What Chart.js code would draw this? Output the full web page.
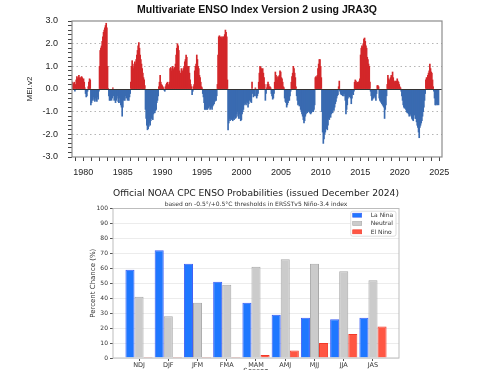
<!DOCTYPE html>
<html>
<head>
<meta charset="utf-8">
<script src="https://cdn.jsdelivr.net/npm/chart.js@4.4.1/dist/chart.umd.min.js"></script>
<style>
  html, body { margin: 0; padding: 0; background: #fff; }
  body { width: 479px; height: 370px; position: relative; overflow: hidden; }
  canvas { position: absolute; left: 0; }
  #mei { top: 0; }
  #prob { top: 180px; }
</style>
</head>
<body>
<canvas id="mei" width="479" height="180"></canvas>
<canvas id="prob" width="479" height="190"></canvas>
<script>
// MEI (JRA3Q) – valeurs bimensuelles, une liste par année
const MEI_1979 = [0.3, 0.25, 0.2, 0.3, -0.1, 0.2, 0.4, 0.55, 0.45, 0.5, 0.6, 0.5];
const MEI_1980 = [0.45, 0.5, 0.55, 0.5, 0.35, 0.45, 0.3, 0.05, -0.2, -0.35, -0.3, -0.1];
const MEI_1981 = [0.1, 0.3, 0.45, 0.4, -0.7, -0.6, -0.45, -0.5, -0.35, -0.45, -0.55, -0.4];
const MEI_1982 = [-0.5, -0.55, -0.35, -0.45, -0.1, 1.0, 1.7, 1.8, 1.9, 2.1, 2.3, 2.5];
const MEI_1983 = [2.6, 2.7, 2.8, 2.9, 2.7, 1.0, 0.02, -0.3, -0.5, -0.5, -0.4, -0.5];
const MEI_1984 = [-0.4, 0.05, -0.3, -0.5, -0.4, -0.6, -0.5, -0.4, -0.3, -0.55, -0.6, -0.4];
const MEI_1985 = [-0.6, -0.7, -0.8, -1.2, -0.8, -0.5, -0.4, -0.5, -0.3, -0.4, -0.35, -0.5];
const MEI_1986 = [-0.45, -0.5, -0.35, -0.2, 0.3, 1.0, 1.25, 1.1, 0.9, 1.0, 1.2, 1.1];
const MEI_1987 = [1.3, 1.5, 1.7, 1.9, 2.05, 1.8, 1.5, 1.3, 1.1, 0.9, 0.7, 0.5];
const MEI_1988 = [0.4, 0.15, -0.9, -1.3, -1.6, -1.8, -1.75, -1.65, -1.5, -1.6, -1.4, -1.3];
const MEI_1989 = [-1.2, -1.35, -1.1, -1.0, -1.05, -0.95, -0.9, -0.6, -0.5, -0.3, 0.1, 0.3];
const MEI_1990 = [0.6, 0.3, 0.2, 0.15, 0.1, 0.05, -0.05, -0.1, 0.1, 0.2, 0.25, 0.3];
const MEI_1991 = [0.2, 0.1, 0.3, 0.9, 0.95, 0.8, 0.9, 1.0, 0.85, 0.9, 0.95, 1.1];
const MEI_1992 = [1.5, 1.8, 2.0, 1.9, 1.7, 0.8, 0.6, 0.7, 0.9, 0.8, 0.7, 0.9];
const MEI_1993 = [1.0, 1.2, 1.3, 1.5, 1.4, 1.0, 0.9, 1.0, 0.7, 0.4, 0.2, 0.1];
const MEI_1994 = [-0.25, -0.1, 0.1, 0.2, 0.8, 1.0, 1.1, 1.5, 1.3, 1.0, 0.9, 0.6];
const MEI_1995 = [0.5, 0.3, 0.1, 0.05, -0.2, -0.35, -0.6, -0.9, -0.9, -0.85, -0.9, -0.9];
const MEI_1996 = [-0.85, -0.8, -0.75, -0.9, -0.85, -0.8, -0.9, -0.75, -0.7, -0.65, -0.55, -0.5];
const MEI_1997 = [-0.5, -0.3, 0.2, 1.5, 2.3, 2.35, 2.2, 2.3, 2.25, 2.3, 2.2, 2.3];
const MEI_1998 = [2.3, 2.4, 2.6, 2.5, 2.3, 0.4, -1.8, -1.5, -1.3, -1.4, -1.3, -1.35];
const MEI_1999 = [-1.2, -1.4, -1.3, -1.35, -1.2, -1.3, -1.25, -1.1, -1.0, -1.2, -1.3, -1.1];
const MEI_2000 = [-1.3, -1.4, -1.35, -1.1, -1.0, -0.9, -0.7, -0.6, -0.65, -0.7, -0.55, -0.6];
const MEI_2001 = [-0.8, -0.65, -0.5, -0.45, -0.55, -0.6, 0.3, -0.2, -0.35, -0.25, -0.3, 0.05];
const MEI_2002 = [-0.3, -0.4, -0.3, -0.2, 0.3, 0.7, 1.0, 0.95, 0.9, 0.85, 0.9, 0.7];
const MEI_2003 = [0.5, 0.2, -0.5, -0.2, 0.05, 0.2, 0.3, 0.2, 0.1, 0.1, 0.05, -0.2];
const MEI_2004 = [-0.3, -0.45, -0.4, -0.2, 0.3, 0.75, 0.6, 0.5, 0.4, 0.55, 0.5, 0.6];
const MEI_2005 = [0.8, 0.75, 0.5, 0.45, 0.3, 0.1, 0.05, -0.4, -0.55, -0.6, -0.8, -0.7];
const MEI_2006 = [-0.6, -0.5, -0.5, -0.3, -0.1, 0.3, 0.55, 0.7, 1.0, 0.9, 0.7, 0.5];
const MEI_2007 = [0.1, -0.3, -0.5, -0.7, -0.65, -0.75, -0.7, -0.9, -1.0, -1.1, -1.2, -1.35];
const MEI_2008 = [-1.5, -1.4, -1.2, -1.1, -1.0, -1.05, -1.0, -0.95, -1.0, -1.05, -1.1, -1.05];
const MEI_2009 = [-1.0, -0.95, -1.0, -0.9, -0.7, 0.5, 0.55, 0.5, 0.6, 0.9, 1.1, 1.3];
const MEI_2010 = [1.3, 1.0, 0.5, -1.0, -1.9, -2.4, -2.2, -2.0, -1.9, -1.7, -1.75, -1.8];
const MEI_2011 = [-1.6, -1.3, -1.35, -1.2, -1.25, -1.1, -1.0, -1.05, -0.9, -0.95, -0.8, -0.65];
const MEI_2012 = [-0.55, -0.4, -0.3, -0.25, 0.1, 0.35, -0.1, -0.2, -0.25, -0.2, -0.3, -0.2];
const MEI_2013 = [-0.3, -0.2, -0.5, -1.1, -0.9, -0.7, -0.4, -0.3, -0.35, -0.3, -0.4, -0.65];
const MEI_2014 = [-0.4, -0.2, -0.25, -0.1, 0.3, 0.4, 0.35, 0.25, 0.3, 0.2, 0.3, 0.35];
const MEI_2015 = [0.45, 1.5, 1.8, 1.9, 1.85, 2.0, 2.2, 2.25, 2.1, 1.9, 1.8, 1.4];
const MEI_2016 = [1.3, 1.1, 1.0, 0.3, -0.1, -0.3, -0.5, -0.45, -0.4, -0.35, -0.3, -0.4];
const MEI_2017 = [-0.5, -0.2, 0.15, 0.15, 0.1, -0.4, -0.5, -0.55, -0.6, -0.65, -0.7, -0.75];
const MEI_2018 = [-0.8, -1.3, -0.9, -0.7, -0.3, 0.2, 0.6, 0.45, 0.35, 0.4, 0.5, 0.6];
const MEI_2019 = [0.5, 0.75, 0.5, 0.35, 0.3, 0.35, 0.3, 0.35, 0.45, 0.35, 0.3, 0.2];
const MEI_2020 = [0.1, 0.05, -0.1, -0.3, -0.5, -0.7, -0.8, -0.85, -0.8, -0.9, -1.0, -1.05];
const MEI_2021 = [-1.0, -1.1, -1.2, -1.15, -1.1, -1.2, -1.3, -1.35, -1.4, -1.05, -1.15, -1.3];
const MEI_2022 = [-1.3, -1.45, -1.6, -1.7, -1.9, -2.15, -1.7, -1.6, -1.5, -1.4, -1.2, -1.0];
const MEI_2023 = [-0.8, -0.5, -0.2, 0.4, 0.5, 0.5, 0.6, 0.7, 0.8, 1.1, 0.9, 0.75];
const MEI_2024 = [0.7, 0.4, 0.1, -0.1, -0.4, -0.7, -0.7, -0.65, -0.7, -0.6, -0.7];

const MEI_ALL = [].concat(
  MEI_1979, MEI_1980, MEI_1981, MEI_1982, MEI_1983, MEI_1984, MEI_1985, MEI_1986,
  MEI_1987, MEI_1988, MEI_1989, MEI_1990, MEI_1991, MEI_1992, MEI_1993, MEI_1994,
  MEI_1995, MEI_1996, MEI_1997, MEI_1998, MEI_1999, MEI_2000, MEI_2001, MEI_2002,
  MEI_2003, MEI_2004, MEI_2005, MEI_2006, MEI_2007, MEI_2008, MEI_2009, MEI_2010,
  MEI_2011, MEI_2012, MEI_2013, MEI_2014, MEI_2015, MEI_2016, MEI_2017, MEI_2018,
  MEI_2019, MEI_2020, MEI_2021, MEI_2022, MEI_2023, MEI_2024
);

// probabilités CPC
const SEASONS = ['NDJ', 'DJF', 'JFM', 'FMA', 'MAM', 'AMJ', 'MJJ', 'JJA', 'JAS'];
const LA_NINA = [59, 72, 63, 51, 37, 29, 27, 26, 27];
const NEUTRAL = [41, 28, 37, 49, 61, 66, 63, 58, 52];
const EL_NINO = [0, 0, 0, 0, 2, 5, 10, 16, 21];

// position sur l'axe des années (le graphe d'origine est un peu décalé)
const X_START = 1978.6;
const X_STEP = 46.3 / (MEI_ALL.length - 1);
const meiPoints = MEI_ALL.map((v, i) => ({ x: X_START + i * X_STEP, y: v }));

// cadre autour de la zone + ligne du zéro
function framePlugin(color, width, zeroLine) {
  return {
    id: 'frame',
    afterDatasetsDraw(chart) {
      const { ctx, chartArea: a, scales } = chart;
      ctx.save();
      if (zeroLine) {
        const y0 = Math.round(scales.y.getPixelForValue(0)) + 0.5;
        ctx.strokeStyle = '#333';
        ctx.lineWidth = 1;
        ctx.beginPath();
        ctx.moveTo(a.left, y0);
        ctx.lineTo(a.right, y0);
        ctx.stroke();
      }
      ctx.strokeStyle = color;
      ctx.lineWidth = width;
      ctx.strokeRect(a.left, a.top, a.right - a.left, a.bottom - a.top);
      ctx.restore();
    }
  };
}

const isInt = v => Math.abs(v - Math.round(v)) < 1e-6;

new Chart(document.getElementById('mei'), {
  type: 'bar',
  data: {
    datasets: [{
      data: meiPoints,
      backgroundColor: c => (c.raw && c.raw.y >= 0) ? '#d3272a' : '#3a6bb1',
      borderWidth: 0,
      barThickness: 1
    }]
  },
  options: {
    responsive: false,
    animation: false,
    layout: { padding: { left: 20, right: 37, top: 0, bottom: 0 } },
    plugins: {
      legend: { display: false },
      tooltip: { enabled: false },
      title: {
        display: true,
        fullSize: false,
        text: 'Multivariate ENSO Index Version 2 using JRA3Q',
        color: '#111',
        font: { family: 'Liberation Sans', size: 10.5, weight: 'bold' },
        padding: { top: 4, bottom: 4.4 }
      }
    },
    scales: {
      x: {
        type: 'linear',
        offset: false,
        min: 1978.57,
        max: 2025.34,
        afterBuildTicks: s => {
          const t = [];
          for (let y = 1979; y <= 2025; y++) t.push({ value: y });
          s.ticks = t;
        },
        afterFit: s => { s.height = 23; },
        ticks: {
          autoSkip: false,
          maxRotation: 0,
          callback: v => (v % 5 === 0 ? String(v) : ''),
          color: '#222',
          font: { family: 'Liberation Sans', size: 9 },
          padding: 6.6
        },
        grid: { offset: false, drawOnChartArea: false, tickLength: 4, tickColor: '#444' },
        border: { display: false }
      },
      y: {
        min: -3,
        max: 3,
        afterBuildTicks: s => {
          const t = [];
          for (let k = -15; k <= 15; k++) t.push({ value: k / 5 });
          s.ticks = t;
        },
        afterFit: s => { s.width = 52; },
        ticks: {
          autoSkip: false,
          callback: v => (isInt(v) ? (Math.round(v)).toFixed(1) : ''),
          color: '#222',
          font: { family: 'Liberation Sans', size: 9 },
          padding: 10
        },
        grid: {
          color: c => {
            const v = c.tick ? c.tick.value : 0;
            return (isInt(v) && Math.abs(v) > 0.5 && Math.abs(v) < 2.5) ? '#b5b5b5' : 'rgba(0,0,0,0)';
          },
          tickColor: '#444',
          tickLength: 4
        },
        border: { display: false, dash: [1.5, 3] },
        title: {
          display: true,
          text: 'MEI.v2',
          color: '#222',
          font: { family: 'Liberation Sans', size: 8 },
          padding: { top: 5.2, bottom: 0 }
        }
      }
    }
  },
  plugins: [framePlugin('#8c8c8c', 1.2, true)]
});

// légende dans le coin haut droit
const insideLegend = {
  id: 'insideLegend',
  afterDraw(chart) {
    const { ctx, chartArea: a } = chart;
    const x0 = a.right - 48.3, y0 = a.top + 2.7, w = 45.3, h = 25;
    ctx.save();
    ctx.fillStyle = 'rgba(255,255,255,0.9)';
    ctx.strokeStyle = '#d6d6d6';
    ctx.lineWidth = 0.8;
    ctx.beginPath();
    ctx.roundRect(x0, y0, w, h, 2);
    ctx.fill();
    ctx.stroke();
    ctx.font = '6px "DejaVu Sans"';
    ctx.textBaseline = 'middle';
    chart.data.datasets.forEach((ds, i) => {
      const y = y0 + 4 + i * 8.3;
      ctx.fillStyle = ds.backgroundColor;
      ctx.fillRect(x0 + 2, y - 2, 9, 4);
      ctx.strokeStyle = ds.borderColor;
      ctx.lineWidth = 0.6;
      ctx.strokeRect(x0 + 2, y - 2, 9, 4);
      ctx.fillStyle = '#333';
      ctx.fillText(ds.label, x0 + 20, y + 0.3);
    });
    ctx.restore();
  }
};

const toPts = arr => arr.map((v, i) => ({ x: i, y: v }));

new Chart(document.getElementById('prob'), {
  type: 'bar',
  data: {
    datasets: [
      { label: 'La Nina', data: toPts(LA_NINA), backgroundColor: '#1f77ff', borderColor: '#3d5ef5', borderWidth: 1 },
      { label: 'Neutral', data: toPts(NEUTRAL), backgroundColor: '#cbcbcb', borderColor: '#a9a9a9', borderWidth: 1 },
      { label: 'El Nino', data: toPts(EL_NINO), backgroundColor: '#ff5643', borderColor: '#f23a2a', borderWidth: 1, minBarLength: 1 }
    ]
  },
  options: {
    responsive: false,
    animation: false,
    categoryPercentage: 0.93,
    barPercentage: 1.0,
    layout: { padding: { left: 80, right: 80, top: 0, bottom: 0 } },
    plugins: {
      legend: { display: false },
      tooltip: { enabled: false },
      title: {
        display: true,
        fullSize: false,
        text: 'Official NOAA CPC ENSO Probabilities (issued December 2024)',
        color: '#222',
        font: { family: 'DejaVu Sans', size: 9.5, weight: 'normal' },
        padding: { top: 8, bottom: 1.4 }
      },
      subtitle: {
        display: true,
        fullSize: false,
        text: 'based on -0.5°/+0.5°C thresholds in ERSSTv5 Niño-3.4 index',
        color: '#333',
        font: { family: 'DejaVu Sans', size: 6 },
        padding: { top: 0, bottom: 0.5 }
      }
    },
    scales: {
      x: {
        type: 'linear',
        offset: false,
        min: -0.89,
        max: 8.89,
        afterBuildTicks: s => { s.ticks = SEASONS.map((_, i) => ({ value: i })); },
        afterFit: s => { s.height = 12; },
        ticks: {
          autoSkip: false,
          maxRotation: 0,
          callback: v => SEASONS[v],
          color: '#333',
          font: { family: 'DejaVu Sans', size: 6.5 },
          padding: 0
        },
        grid: { offset: false, drawOnChartArea: false, tickLength: 3, tickColor: '#555' },
        border: { display: false },
        title: {
          display: true,
          text: 'Season',
          color: '#333',
          font: { family: 'DejaVu Sans', size: 7 },
          padding: { top: 0, bottom: -5.2 }
        }
      },
      y: {
        min: 0,
        max: 100,
        afterFit: s => { s.width = 33; },
        ticks: {
          stepSize: 10,
          color: '#333',
          font: { family: 'DejaVu Sans', size: 6 },
          padding: 2
        },
        grid: { color: '#ececec', tickColor: '#555', tickLength: 3 },
        border: { display: false },
        title: {
          display: true,
          text: 'Percent Chance (%)',
          color: '#333',
          font: { family: 'DejaVu Sans', size: 7 },
          padding: { top: 8.8, bottom: 0 }
        }
      }
    }
  },
  plugins: [framePlugin('#bdbdbd', 1, false), insideLegend]
});
</script>
</body>
</html>
